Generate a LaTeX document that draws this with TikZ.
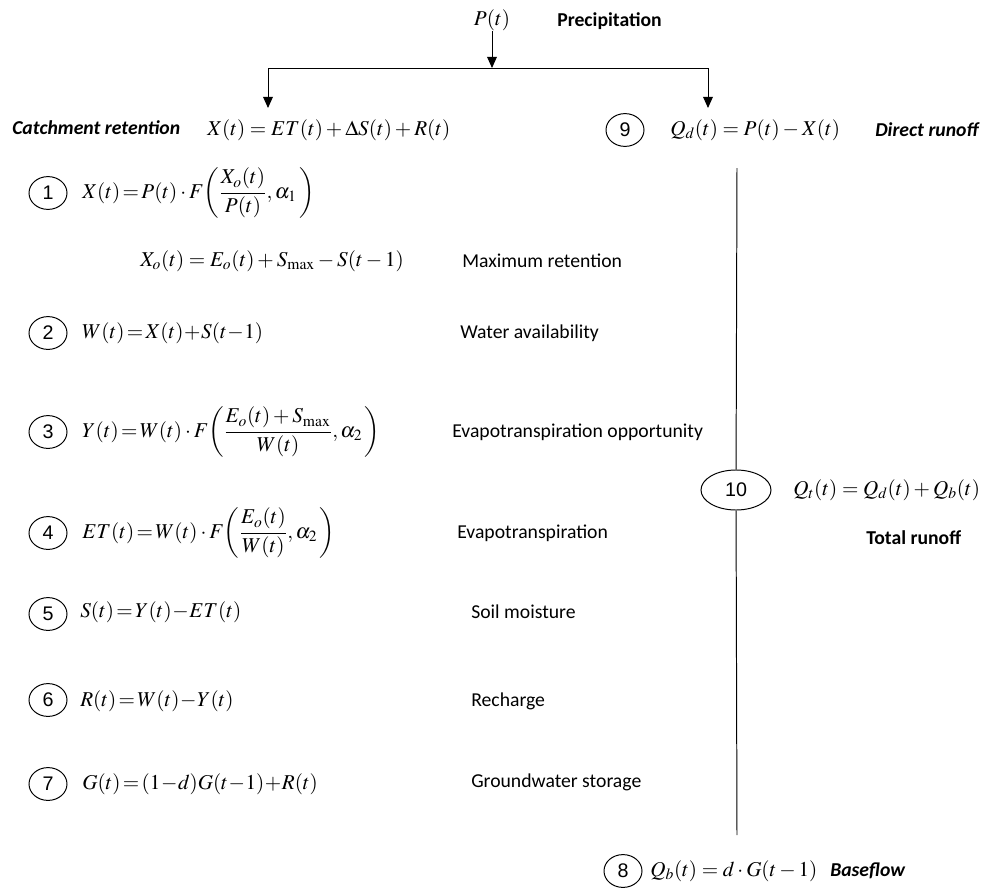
\documentclass[tikz,border=0pt]{standalone}
\usepackage{amsmath}
\usepackage{mathptmx}
\usepackage[no-math]{fontspec}
\setmainfont{Carlito}
\newfontfamily\numfont{Liberation Sans}
\usetikzlibrary{positioning,arrows.meta,shapes.geometric}

\begin{document}
\begin{tikzpicture}[x=0.025cm, y=-0.025cm,
        num/.style={draw=black, ellipse, line width=0.7pt, inner sep=0pt,
          minimum width=0.95cm, minimum height=0.82cm, font=\numfont\fontsize{14}{16}\selectfont},
        eq/.style={anchor=west, inner sep=0pt, font=\fontsize{15}{17}\selectfont},
        lab/.style={anchor=west, inner sep=0pt, font=\fontsize{14}{16}\selectfont},
        head/.style={lab, font=\fontsize{14}{16}\selectfont\bfseries\itshape},
        arr/.style={-{Triangle[width=7pt,length=8pt]}, line width=0.7pt},
        conn/.style={line width=0.7pt}]
      \useasboundingbox (0,0) rectangle (995,888);
      % precipitation and split
      \node[eq, anchor=center] (pt) at (492,20) {$P(t)$};
      \node[lab, font=\fontsize{14}{16}\selectfont\bfseries] (prec) at (557,21) {Precipitation};
      \coordinate (split) at (492,68);
      \coordinate (lend) at (268,108);
      \coordinate (rend) at (708,108);
      \draw[arr] (pt) -- (split);
      \draw[arr] (split) -| (lend);
      \draw[arr] (split) -| (rend);
      % catchment retention
      \node[head] (rethead) at (12,128) {Catchment retention};
      \node[eq] (ret) at (207,130) {$X(t) = ET(t) + \Delta S(t) + R(t)$};
      % direct runoff
      \node[num] (c9) at (625,130) {9};
      \node[eq] (qd) at (670,130) {$Q_{d}(t) = P(t) - X(t)$};
      \node[head] (dirhead) at (875,130) {Direct runoff};
      % left column
      \node[num] (c1) at (48,193) {1};
      \node[eq] (eq1) at (82,193) {$X(t)\!=\!P(t)\cdot F\!\left(\dfrac{X_{o}(t)}{P(t)},\alpha_{1}\,\right)$};
      \node[eq] (eq1b) at (140,261) {$X_{o}(t) = E_{o}(t) + S_{\max} - S(t-1)$};
      \node[lab] (lab1b) at (462,261) {Maximum retention};
      \node[num] (c2) at (48,333) {2};
      \node[eq] (eq2) at (82,333) {$W(t)\!=\!X(t)\!+\!S(t\!-\!1)$};
      \node[lab] (lab2) at (460,333) {Water availability};
      \node[num] (c3) at (48,432) {3};
      \node[eq] (eq3) at (82,432) {$Y(t)\!=\!W(t)\cdot F\!\left(\dfrac{E_{o}(t)+S_{\max}}{W(t)},\alpha_{2}\,\right)$};
      \node[lab] (lab3) at (452,432) {Evapotranspiration opportunity};
      \node[num] (c4) at (48,533) {4};
      \node[eq] (eq4) at (82,533) {$ET(t)\!=\!W(t)\cdot F\!\left(\dfrac{E_{o}(t)}{W(t)},\alpha_{2}\,\right)$};
      \node[lab] (lab4) at (457,533) {Evapotranspiration};
      \node[num] (c5) at (48,614) {5};
      \node[eq] (eq5) at (80,612) {$S(t)\!=\!Y(t)\!-\!ET(t)$};
      \node[lab] (lab5) at (471,612) {Soil moisture};
      \node[num] (c6) at (48,700) {6};
      \node[eq] (eq6) at (80,701) {$R(t)\!=\!W(t)\!-\!Y(t)$};
      \node[lab] (lab6) at (471,701) {Recharge};
      \node[num] (c7) at (48,784) {7};
      \node[eq] (eq7) at (82,784) {$G(t)\!=\!(1\!-\!d)G(t\!-\!1)\!+\!R(t)$};
      \node[lab] (lab7) at (471,782) {Groundwater storage};
      % total runoff and baseflow
      \node[num, minimum width=1.75cm, minimum height=1cm] (c10) at (736,490) {10};
      \node[eq] (qt) at (793,490) {$Q_{t}(t) = Q_{d}(t) + Q_{b}(t)$};
      \node[lab, font=\fontsize{14}{16}\selectfont\bfseries] (tothead) at (866,538) {Total runoff};
      \node[num] (c8) at (623,871) {8};
      \node[eq] (qb) at (650,871) {$Q_{b}(t) = d\cdot G(t-1)$};
      \node[head] (basehead) at (830,871) {Baseflow};
      \coordinate (vtop) at (737,168);
      \coordinate (vbot) at (737,835);
      \draw[conn] (vtop) -- (c10);
      \draw[conn] (c10) -- (vbot);
\end{tikzpicture}
\end{document}
